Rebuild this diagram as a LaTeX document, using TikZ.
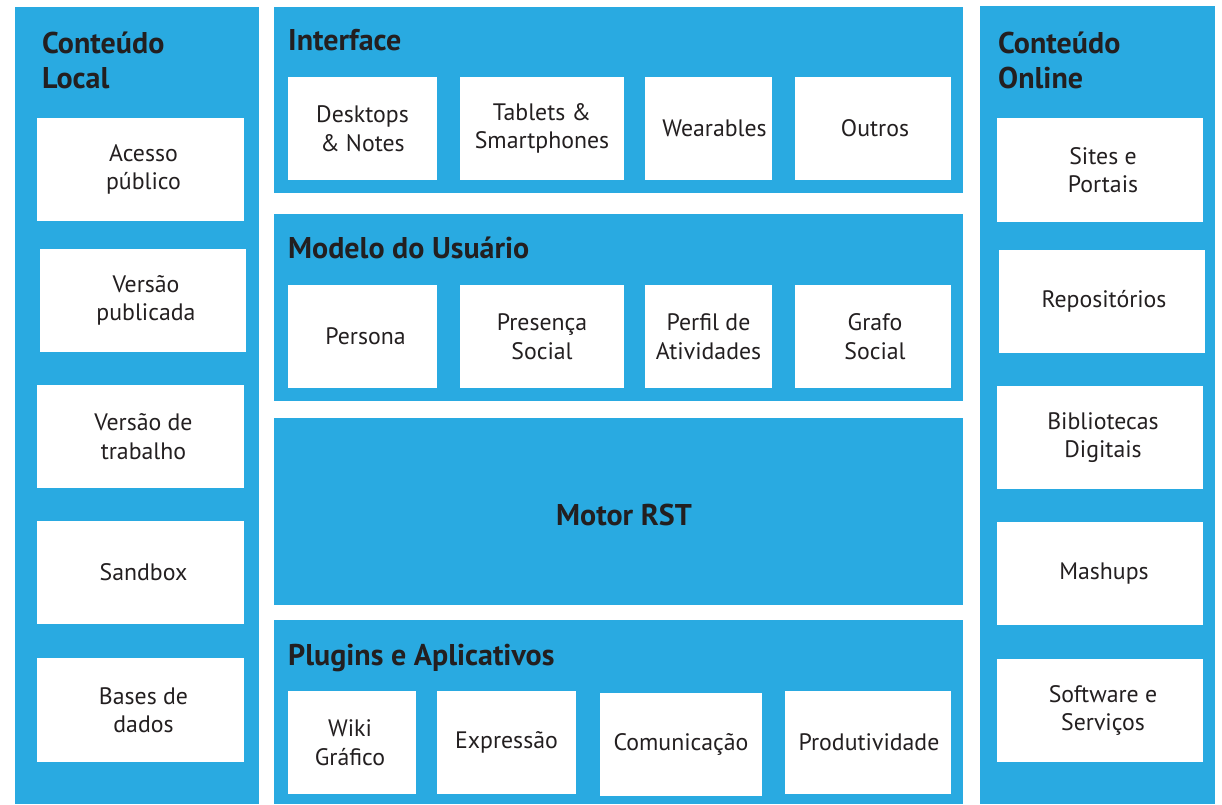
\documentclass[tikz,border=0pt]{standalone}
\usepackage{fontspec}
\setmainfont{PT Sans}
\usetikzlibrary{fit}
\definecolor{panelblue}{RGB}{41,170,225}
\definecolor{ink}{RGB}{35,31,32}
\tikzset{
  panel/.style={fill=panelblue, draw=none, inner sep=0pt},
  box/.style={fill=white, draw=none, inner sep=0pt},
  lbl/.style={inner sep=0pt, align=center, text=ink,
    font=\fontsize{23.8}{28.5}\selectfont},
  ttl/.style={anchor=base west, inner sep=0pt, text=ink,
    font=\bfseries\fontsize{30}{35}\selectfont},
}
\newcommand\bx[7][0]{\node[box, fit={(#3,#4)(#5,#6)}] (#2) {};
  \node[lbl, xshift=#1pt] (#2t) at (#2.center) {#7};}
\begin{document}
\begin{tikzpicture}[x=1pt,y=-1pt]
\useasboundingbox (0,0) rectangle (1222,804);
% panels
\node[panel, fit={(15,7)(259,804)}] (left) {};
\node[panel, fit={(274,7)(963,193)}] (iface) {};
\node[panel, fit={(274,214)(963,401)}] (model) {};
\node[panel, fit={(274,418)(963,605)}] (motor) {};
\node[inner sep=0pt, text=ink, font=\bfseries\fontsize{30}{35}\selectfont] (motort) at (624,515) {Motor RST};
\node[panel, fit={(274,620)(963,804)}] (plug) {};
\node[panel, fit={(980,6)(1215,804)}] (right) {};
% titles
\node[ttl] (tl1) at (42,53) {Conteúdo};
\node[ttl] (tl2) at (42,88) {Local};
\node[ttl] (tr1) at (998,53) {Conteúdo};
\node[ttl] (tr2) at (998,88) {Online};
\node[ttl] (ti) at (288,50) {Interface};
\node[ttl] (tm) at (288,258) {Modelo do Usuário};
\node[ttl] (tp) at (288,665) {Plugins e Aplicativos};
% left boxes
\bx[3]{l1}{37}{118}{244}{221}{Acesso\\público}
\bx[3]{l2}{40}{249}{246}{352}{Versão\\publicada}
\bx[3]{l3}{37}{385}{244}{488}{Versão de\\trabalho}
\bx[3]{l4}{37}{521}{244}{624}{Sandbox}
\bx[3]{l5}{37}{658}{244}{762}{Bases de\\dados}
% right boxes
\bx[3]{r1}{997}{118}{1203}{222}{Sites e\\Portais}
\bx[2]{r2}{999}{250}{1205}{353}{Repositórios}
\bx[3]{r3}{997}{386}{1203}{489}{Bibliotecas\\Digitais}
\bx[4]{r4}{997}{522}{1203}{625}{Mashups}
\bx[3]{r5}{997}{659}{1203}{762}{Software e\\Serviços}
% interface boxes
\bx{i1}{288}{77}{437}{180}{Desktops\\\& Notes}
\bx{i2}{460}{77}{624}{180}{Tablets \&\\Smartphones}
\bx[6]{i3}{645}{77}{772}{180}{Wearables}
\bx[2]{i4}{795}{77}{951}{180}{Outros}
% user model boxes
\bx[3]{m1}{288}{285}{437}{388}{Persona}
\bx{m2}{460}{285}{624}{388}{Presença\\Social}
\bx{m3}{645}{285}{772}{388}{Perfil de\\Atividades}
\bx[2]{m4}{795}{285}{951}{388}{Grafo\\Social}
% plugin boxes
\bx[-2]{p1}{288}{691}{416}{794}{Wiki\\Gráfico}
\bx{p2}{437}{691}{576}{794}{Expressão}
\bx{p3}{600}{693}{762}{796}{Comunicação}
\bx[1]{p4}{785}{691}{951}{794}{Produtividade}
\end{tikzpicture}
\end{document}
